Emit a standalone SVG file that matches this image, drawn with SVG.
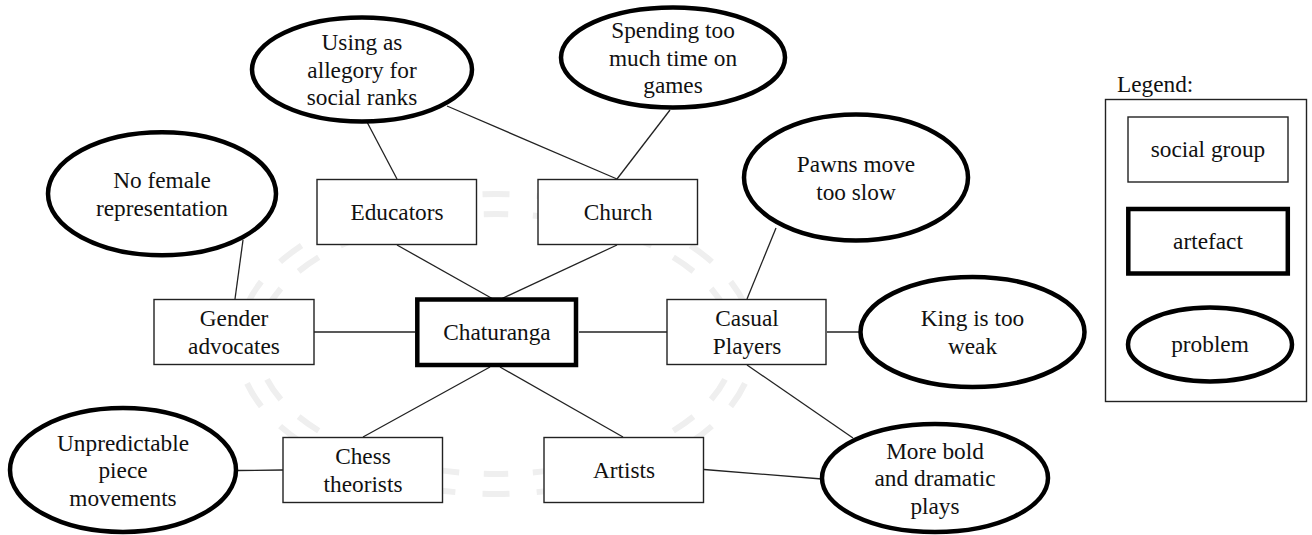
<svg xmlns="http://www.w3.org/2000/svg" width="1312" height="535" viewBox="0 0 1312 535">
<style>
text{font-family:"Liberation Serif","Times New Roman",serif;font-size:23.3px;fill:#111;text-anchor:middle}
.sg{fill:#fff;stroke:#222;stroke-width:1.4}
.af{fill:#fff;stroke:#000;stroke-width:4.5}
.pb{fill:#fff;stroke:#000;stroke-width:4.5}
.wm{fill:none;stroke:#efefef;stroke-width:6;stroke-dasharray:0.5 0.5;stroke-dashoffset:0.25}
#connectors line{stroke:#222;stroke-width:1.3}
</style>
<rect width="1312" height="535" fill="#fff"/>
<g id="watermark">
<ellipse class="wm" cx="496" cy="344" rx="258" ry="150" pathLength="24"/>
<ellipse class="wm" cx="496" cy="344" rx="238" ry="130" pathLength="24"/>
</g>
<g id="connectors">
<line x1="493" y1="299" x2="397" y2="245"/>
<line x1="501" y1="299" x2="617" y2="245"/>
<line x1="415" y1="332" x2="314" y2="332"/>
<line x1="579" y1="332" x2="667" y2="332"/>
<line x1="490" y1="367" x2="363" y2="437"/>
<line x1="500" y1="367" x2="623" y2="437"/>
<line x1="397" y1="179" x2="367" y2="122"/>
<line x1="617" y1="179" x2="447" y2="106"/>
<line x1="617" y1="179" x2="670" y2="110"/>
<line x1="235" y1="299" x2="243" y2="240"/>
<line x1="747" y1="299" x2="776" y2="228"/>
<line x1="827" y1="332" x2="860" y2="332"/>
<line x1="747" y1="365" x2="853" y2="438"/>
<line x1="704" y1="469.5" x2="822" y2="479"/>
<line x1="283" y1="470" x2="238" y2="470.5"/>
</g>
<g id="chaturanga">
<rect class="af" x="417.3" y="299.5" width="158.7" height="65.5"/>
<text x="497" y="340">Chaturanga</text>
</g>
<g id="educators">
<rect class="sg" x="317" y="179.5" width="159.5" height="65"/>
<text x="397" y="220">Educators</text>
</g>
<g id="church">
<rect class="sg" x="538" y="179.5" width="159.5" height="65"/>
<text x="618" y="220">Church</text>
</g>
<g id="gender-advocates">
<rect class="sg" x="154" y="299.5" width="160" height="65"/>
<text x="234" y="326">Gender</text>
<text x="234" y="354">advocates</text>
</g>
<g id="casual-players">
<rect class="sg" x="667" y="299.5" width="159" height="65"/>
<text x="747" y="326">Casual</text>
<text x="747" y="354">Players</text>
</g>
<g id="chess-theorists">
<rect class="sg" x="283" y="437.5" width="159.5" height="65"/>
<text x="363" y="464">Chess</text>
<text x="363" y="492">theorists</text>
</g>
<g id="artists">
<rect class="sg" x="544" y="437.5" width="159.5" height="65"/>
<text x="624" y="478">Artists</text>
</g>
<g id="using-allegory">
<ellipse class="pb" cx="362" cy="69.5" rx="110" ry="52"/>
<text x="362" y="50">Using as</text>
<text x="362" y="77.5">allegory for</text>
<text x="362" y="105">social ranks</text>
</g>
<g id="spending-time">
<ellipse class="pb" cx="673" cy="57.5" rx="112" ry="50"/>
<text x="673" y="38">Spending too</text>
<text x="673" y="65.5">much time on</text>
<text x="673" y="93">games</text>
</g>
<g id="no-female">
<ellipse class="pb" cx="162" cy="193.7" rx="114" ry="61.5"/>
<text x="162" y="188">No female</text>
<text x="162" y="215.5">representation</text>
</g>
<g id="pawns-slow">
<ellipse class="pb" cx="856" cy="177.5" rx="112" ry="63"/>
<text x="856" y="172">Pawns move</text>
<text x="856" y="199.5">too slow</text>
</g>
<g id="king-weak">
<ellipse class="pb" cx="972.5" cy="332" rx="112" ry="55"/>
<text x="972.5" y="326">King is too</text>
<text x="972.5" y="353.5">weak</text>
</g>
<g id="bold-plays">
<ellipse class="pb" cx="935" cy="478" rx="113" ry="54"/>
<text x="935" y="458.5">More bold</text>
<text x="935" y="486">and dramatic</text>
<text x="935" y="513.5">plays</text>
</g>
<g id="unpredictable">
<ellipse class="pb" cx="123" cy="470" rx="113" ry="62"/>
<text x="123" y="450.5">Unpredictable</text>
<text x="123" y="478">piece</text>
<text x="123" y="505.5">movements</text>
</g>
<g id="legend">
<text x="1117" y="92" style="text-anchor:start">Legend:</text>
<rect x="1105.5" y="99.5" width="201" height="302" fill="#fff" stroke="#222" stroke-width="1.4"/>
<rect class="sg" x="1128" y="117" width="160" height="65"/>
<text x="1208" y="157">social group</text>
<rect class="af" x="1128.3" y="209" width="159.5" height="64.5"/>
<text x="1208" y="249">artefact</text>
<ellipse class="pb" cx="1210" cy="344.5" rx="82" ry="37"/>
<text x="1210" y="352">problem</text>
</g>
</svg>
